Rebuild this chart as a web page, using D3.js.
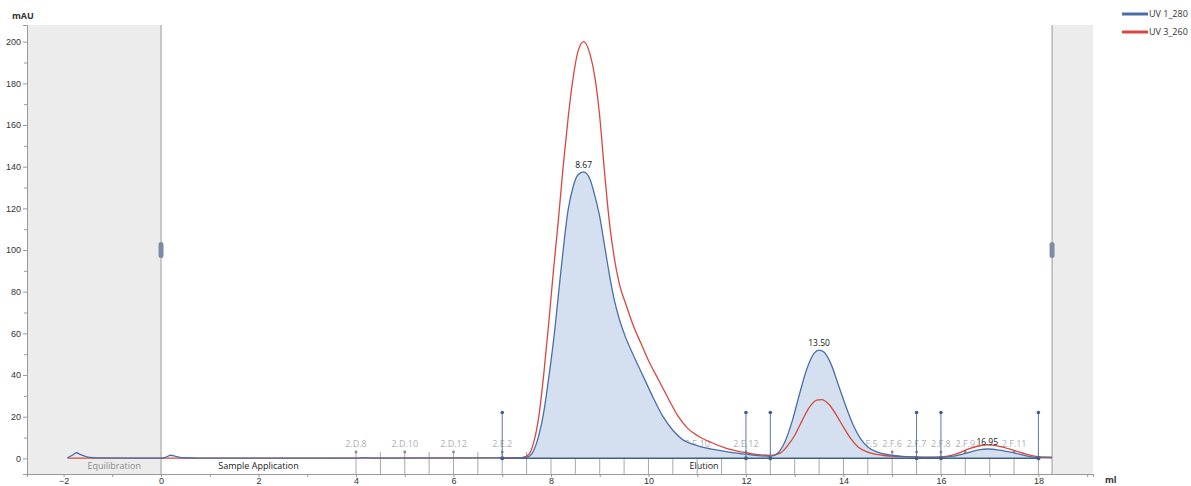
<!DOCTYPE html>
<html>
<head>
<meta charset="utf-8">
<script src="https://cdn.jsdelivr.net/npm/d3@7"></script>
<style>
  body { margin: 0; background: #fff; }
  svg { display: block; font-family: "Segoe UI", "Open Sans", "DejaVu Sans", sans-serif; }
</style>
</head>
<body>
<div id="chart"></div>
<script>
// UV chromatogram, values (ml, mAU)
var uv280Ml = [-1.92, -1.82, -1.74, -1.65, -1.5, -1.3, -0.5, 0.0, 0.1, 0.2, 0.3, 0.45, 0.8, 4.0, 4.2, 4.35, 7.0, 7.4,
  7.55, 7.65, 7.75, 7.85, 7.95, 8.05, 8.15, 8.25, 8.35, 8.45, 8.55, 8.67, 8.8, 8.9, 9.0, 9.1, 9.2, 9.3, 9.4, 9.5,
  9.7, 9.9, 10.1, 10.3, 10.5, 10.7, 10.9, 11.1, 11.3, 11.6, 11.8, 12.0, 12.25, 12.5, 12.65, 12.8, 12.95, 13.1,
  13.25, 13.4, 13.5, 13.6, 13.75, 13.9, 14.05, 14.2, 14.35, 14.5, 14.7, 15.0, 15.3, 15.5, 15.8, 16.0, 16.3, 16.6,
  16.8, 16.95, 17.2, 17.5, 17.75, 18.0, 18.28];
var uv280 = [0.3, 1.5, 2.7, 1.8, 0.6, 0.2, 0.1, 0.1, 0.6, 1.5, 1.0, 0.3, 0.1, 0.1, 0.4, 0.1, 0.2, 0.3,
  1, 4, 11, 22, 38, 56, 78, 100, 119, 130, 136, 137.5, 134, 126, 116, 102, 88, 76, 67, 60,
  49, 39, 29, 20, 13.5, 9, 6.8, 5.4, 4.4, 3.2, 2.5, 2, 1.3, 1.0, 2.5, 8, 18, 31,
  43, 50.5, 52, 51, 45, 35, 25, 16, 9.5, 5.5, 3, 1.5, 0.8, 0.6, 0.5, 0.5, 1.2, 3,
  4.2, 4.5, 4, 2.6, 1.2, 0.4, 0.3];

var uv260Ml = [-1.92, 0.0, 7.0, 7.4, 7.55, 7.65, 7.75, 7.85, 7.95, 8.05, 8.15, 8.25, 8.35, 8.45, 8.55, 8.67, 8.8,
  8.9, 9.0, 9.1, 9.2, 9.3, 9.4, 9.55, 9.7, 9.85, 10.0, 10.2, 10.4, 10.6, 10.8, 11.0, 11.3, 11.6, 12.0, 12.25,
  12.5, 12.7, 12.85, 13.0, 13.15, 13.3, 13.45, 13.55, 13.7, 13.85, 14.0, 14.15, 14.3, 14.5, 14.8, 15.2, 15.6,
  16.0, 16.3, 16.6, 16.85, 16.95, 17.2, 17.5, 17.75, 18.0, 18.28];
var uv260 = [0.1, 0.1, 0.2, 0.3, 2, 8, 20, 40, 64, 90, 114, 140, 163, 182, 195, 200, 194,
  183, 164, 137, 113, 96, 84, 73, 63, 55, 47, 38, 29, 20.5, 14.5, 11, 7.5, 4.8, 2.7, 1.8,
  1.4, 2.5, 6, 11, 18, 24.5, 28, 28.2, 26, 21, 15, 9.5, 5.5, 3, 1.5, 0.8, 0.6,
  0.7, 2, 4.8, 6.3, 6.5, 5.8, 3.8, 2, 0.8, 0.6];

var fracMl = [4.0, 4.5, 5.0, 5.5, 6.0, 6.5, 7.0, 7.5, 8.0, 8.5, 9.0, 9.5, 10.0, 10.5, 11.0, 11.5, 12.0, 12.5,
  13.0, 13.5, 14.0, 14.5, 15.0, 15.5, 16.0, 16.5, 17.0, 17.5, 18.0];
var fracLabels = ["2.D.8", "", "2.D.10", "", "2.D.12", "", "2.E.2", "", "2.E.4", "", "2.E.6", "", "2.E.8", "",
  "2.E.10", "", "2.E.12", "", "2.F.2", "2.F.3", "2.F.4", "2.F.5", "2.F.6", "2.F.7", "2.F.8", "2.F.9", "", "2.F.11", ""];

var eventMl = [7.0, 12.0, 12.5, 15.5, 16.0, 18.0];
var peakMl = [8.67, 13.50, 16.95];
var peakMau = [137.5, 52, 4.5];

var phaseNames = ["Equilibration", "Sample Application", "Elution"];
var phaseStart = [-1.92, 0, 4];
var phaseEnd = [0, 4, 18.28];

var svgWidth = 1191;
var svgHeight = 486;
var margin = { top: 25, left: 27, right: 98, bottom: 12 };
var plotBottom = 474;

var svg = d3.select("#chart").append("svg")
  .attr("width", svgWidth)
  .attr("height", svgHeight);

var x = d3.scaleLinear().domain([-2.75, 19.12]).range([margin.left, svgWidth - margin.right]);
var y = d3.scaleLinear().domain([-7.5, 208]).range([plotBottom, margin.top]);

// grey regions outside the run
svg.append("rect")
  .attr("x", x(-2.75)).attr("y", margin.top)
  .attr("width", x(0) - x(-2.75)).attr("height", plotBottom - margin.top)
  .attr("fill", "#ececec");
svg.append("rect")
  .attr("x", x(18.28)).attr("y", margin.top)
  .attr("width", x(19.12) - x(18.28)).attr("height", plotBottom - margin.top)
  .attr("fill", "#ececec");
[0, 18.28].forEach(function(v) {
  svg.append("line")
    .attr("x1", x(v)).attr("x2", x(v))
    .attr("y1", margin.top).attr("y2", plotBottom)
    .attr("stroke", "#9a9a9a").attr("stroke-width", 1);
  svg.append("rect")
    .attr("x", x(v) - 2.5).attr("y", y(100) - 8)
    .attr("width", 5).attr("height", 16).attr("rx", 2.5)
    .attr("fill", "#7d8ba3");
});

// axes
var leftAxis = d3.axisLeft(y).tickValues(d3.range(0, 201, 20)).tickSize(4).tickPadding(2);
var leftMinor = d3.axisLeft(y).tickValues(d3.range(10, 201, 20)).tickSize(3).tickFormat("");
var bottomAxis = d3.axisBottom(x).tickValues(d3.range(-2, 19, 2)).tickSize(3).tickPadding(1);
var bottomMinor = d3.axisBottom(x).tickValues(d3.range(-1, 20, 2)).tickSize(3).tickFormat("");

function styleAxis(g) {
  g.select(".domain").attr("stroke", "#9a9a9a");
  g.selectAll(".tick line").attr("stroke", "#9a9a9a");
  g.selectAll("text").attr("fill", "#333").style("font-size", "9px");
}

svg.append("g").attr("transform", `translate(${margin.left},0)`).call(leftAxis).call(styleAxis);
svg.append("g").attr("transform", `translate(${margin.left},0)`).call(leftMinor).call(styleAxis);
svg.append("g").attr("transform", `translate(0,${plotBottom})`).call(bottomAxis).call(styleAxis);
svg.append("g").attr("transform", `translate(0,${plotBottom})`).call(bottomMinor).call(styleAxis);

svg.append("text").attr("x", 12).attr("y", 19)
  .style("font-size", "9px").style("font-weight", "bold").attr("fill", "#333").text("mAU");
svg.append("text").attr("x", 1105).attr("y", 483)
  .style("font-size", "9px").style("font-weight", "bold").attr("fill", "#333").text("ml");

// phases
phaseNames.forEach(function(name, i) {
  svg.append("text")
    .attr("x", (x(phaseStart[i]) + x(phaseEnd[i])) / 2)
    .attr("y", 469)
    .attr("text-anchor", "middle")
    .style("font-size", "9px")
    .attr("fill", i == 0 ? "#8a8a8a" : "#222")
    .text(name);
});

// fractions
var fracG = svg.append("g");
fracMl.forEach(function(v, i) {
  fracG.append("line")
    .attr("x1", x(v)).attr("x2", x(v))
    .attr("y1", 452).attr("y2", plotBottom)
    .attr("stroke", "#a8a8a8").attr("stroke-width", 1);
  if (fracLabels[i] != "") {
    fracG.append("circle").attr("cx", x(v)).attr("cy", 452).attr("r", 1.4).attr("fill", "#8a8a8a");
    fracG.append("text")
      .attr("x", x(v)).attr("y", 447)
      .attr("text-anchor", "middle")
      .style("font-size", "9px")
      .attr("fill", "#aeb0b4")
      .text(fracLabels[i]);
  }
});

// curves
var blueData = uv280Ml.map(function(m, i) { return [m, uv280[i]]; });
var redData = uv260Ml.map(function(m, i) { return [m, uv260[i]]; });

var line = d3.line().x(d => x(d[0])).y(d => y(d[1])).curve(d3.curveMonotoneX);
var area = d3.area().x(d => x(d[0])).y0(y(0)).y1(d => y(d[1])).curve(d3.curveMonotoneX);

svg.append("path")
  .datum(blueData.filter(d => d[0] >= 7.4 && d[0] <= 18.0))
  .attr("d", area)
  .attr("fill", "#d4e0f0");

// integration baseline
svg.append("line")
  .attr("x1", x(7.0)).attr("x2", x(18.0))
  .attr("y1", y(0)).attr("y2", y(0))
  .attr("stroke", "#3f5f8a").attr("stroke-width", 1.5);

svg.append("path").datum(redData).attr("d", line)
  .attr("fill", "none").attr("stroke", "#d9463e").attr("stroke-width", 1.3);
svg.append("path").datum(blueData).attr("d", line)
  .attr("fill", "none").attr("stroke", "#4a6fa8").attr("stroke-width", 1.3);

// event markers
eventMl.forEach(function(v) {
  svg.append("line")
    .attr("x1", x(v)).attr("x2", x(v))
    .attr("y1", y(22)).attr("y2", y(0))
    .attr("stroke", "#5a7aa6").attr("stroke-width", 1);
  svg.append("circle").attr("cx", x(v)).attr("cy", y(22)).attr("r", 1.8).attr("fill", "#3f5f8a");
  svg.append("circle").attr("cx", x(v)).attr("cy", y(0)).attr("r", 2).attr("fill", "#3f5f8a");
});

// peak labels
peakMl.forEach(function(v, i) {
  svg.append("text")
    .attr("x", x(v)).attr("y", y(peakMau[i]) - 4)
    .attr("text-anchor", "middle")
    .style("font-size", "8.5px")
    .attr("fill", "#111")
    .text(d3.format(".2f")(v));
});

// legend
var legendNames = ["UV 1_280", "UV 3_260"];
var legendColors = ["#4a6fa8", "#d9463e"];
legendNames.forEach(function(name, i) {
  svg.append("line")
    .attr("x1", 1122).attr("x2", 1148)
    .attr("y1", 14 + i * 18).attr("y2", 14 + i * 18)
    .attr("stroke", legendColors[i]).attr("stroke-width", 3);
  svg.append("text")
    .attr("x", 1149).attr("y", 17 + i * 18)
    .style("font-size", "9px").attr("fill", "#333")
    .text(name);
});
</script>
</body>
</html>
